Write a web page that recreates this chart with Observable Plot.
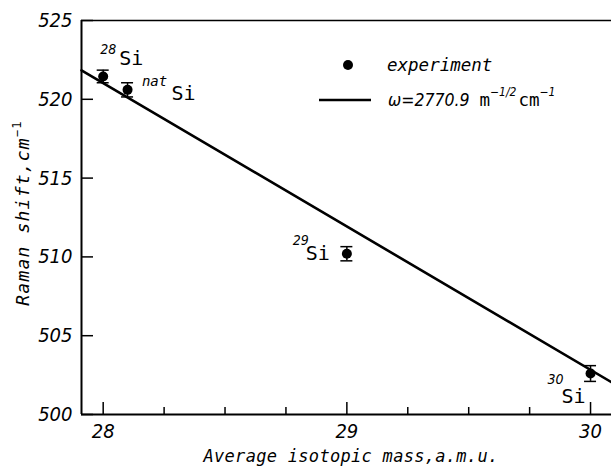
<!DOCTYPE html>
<html>
<head>
<meta charset="utf-8">
<script src="https://cdn.jsdelivr.net/npm/d3@7"></script>
<script src="https://cdn.jsdelivr.net/npm/@observablehq/plot@0.6"></script>
<style>
  html, body { margin: 0; padding: 0; background: #fff; }
  #chart svg { display: block; }
</style>
</head>
<body>
<div id="chart"></div>
<script>
// Data
const masses = [28.0, 28.1, 29.0, 30.0];
const shifts = [521.45, 520.6, 510.2, 502.6];
const errors = [0.4, 0.45, 0.45, 0.5];
const isoSup = ["28", "nat", "29", "30"];
const element = "Si";
const fitMass = [27.911, 30.086];
const fitShift = [521.84, 502.05];
const xMajor = [28, 29, 30];
const xMinor = [28.25, 28.5, 28.75, 29.25, 29.5, 29.75];
const yMajor = [500, 505, 510, 515, 520, 525];
const legendExp = "experiment";
const legendFit = "ω=2770.9";

const W = 611, H = 468;
const mL = 81, mR = 0, mT = 20, mB = 54;
const plotW = W - mL - mR, plotH = H - mT - mB;

const points = masses.map((m, i) => ({m, w: shifts[i], e: errors[i], sup: isoSup[i]}));
const fit = fitMass.map((m, i) => ({m, w: fitShift[i]}));

const tickFont = "'DejaVu Sans Condensed', 'DejaVu Sans', sans-serif";
const labFont = "'DejaVu Sans Mono', monospace";

const labelOffsets = [
  {sx: 5, sy: -27, ex: 28, ey: -18},
  {sx: 27, sy: -8, ex: 56, ey: 4},
  {sx: -46, sy: -13, ex: -29, ey: 0},
  {sx: -35, sy: 6, ex: -17, ey: 23}
];

const labelMarks = [];
points.forEach((p, i) => {
  const o = labelOffsets[i];
  labelMarks.push(Plot.text([p], {x: "m", y: "w", text: "sup", dx: o.sx, dy: o.sy,
    fontSize: 14, fontStyle: "italic", fontFamily: i === 1 ? labFont : tickFont}));
  labelMarks.push(Plot.text([p], {x: "m", y: "w", text: () => element, dx: o.ex, dy: o.ey,
    fontSize: 20, fontStyle: "normal", fontFamily: labFont}));
});

const chart = Plot.plot({
  width: W, height: H,
  marginLeft: mL, marginRight: mR, marginTop: mT, marginBottom: mB,
  style: {fontFamily: tickFont, background: "#fff", color: "#000"},
  x: {domain: [fitMass[0], fitMass[1]], axis: null},
  y: {domain: [500, 525], axis: null},
  marks: [
    // frame
    Plot.ruleX([fitMass[0]], {x: d => d, strokeWidth: 2}),
    Plot.ruleY([yMajor[0]], {y: d => d, strokeWidth: 2}),
    Plot.ruleY([yMajor[yMajor.length - 1]], {y: d => d, strokeWidth: 1.5}),
    // inward ticks
    Plot.tickX(xMajor, {x: d => d, insetTop: plotH - 12, strokeWidth: 1.5}),
    Plot.tickX(xMinor, {x: d => d, insetTop: plotH - 7, strokeWidth: 1.5}),
    Plot.tickY(yMajor, {y: d => d, insetRight: plotW - 12, strokeWidth: 1.5}),
    // tick labels (italic)
    Plot.text(xMajor, {x: d => d, y: () => yMajor[0], text: d => String(d), dy: 17,
      fontSize: 20, fontStyle: "italic", fontFamily: tickFont}),
    Plot.text(yMajor, {x: () => fitMass[0], y: d => d, text: d => String(d), dx: -9,
      textAnchor: "end", fontSize: 20, fontStyle: "italic", fontFamily: tickFont}),
    // fit line
    Plot.line(fit, {x: "m", y: "w", stroke: "#000", strokeWidth: 2.6}),
    // error bars
    Plot.ruleX(points, {x: "m", y1: d => d.w - d.e, y2: d => d.w + d.e, strokeWidth: 1.5}),
    Plot.ruleY(points, {y: d => d.w - d.e, x1: "m", x2: "m", insetLeft: -6, insetRight: -6, strokeWidth: 1.5}),
    Plot.ruleY(points, {y: d => d.w + d.e, x1: "m", x2: "m", insetLeft: -6, insetRight: -6, strokeWidth: 1.5}),
    Plot.dot(points, {x: "m", y: "w", r: 5, fill: "#000", stroke: "none"}),
    ...labelMarks
  ]
});

document.getElementById("chart").appendChild(chart);

const svg = d3.select(chart);

// Titles and legend drawn as real text on the same SVG
svg.append("text")
  .attr("x", 351).attr("y", 462)
  .attr("text-anchor", "middle")
  .attr("font-family", labFont).attr("font-style", "italic")
  .attr("font-size", 17).attr("letter-spacing", 0.3)
  .text("Average isotopic mass,a.m.u.");

const yt = svg.append("text")
  .attr("transform", "translate(29,213) rotate(-90)")
  .attr("text-anchor", "middle")
  .attr("font-family", labFont).attr("font-style", "italic")
  .attr("font-size", 18).attr("letter-spacing", 1.2);
yt.append("tspan").text("Raman shift,cm");
yt.append("tspan").attr("dy", -8).attr("font-size", 12).attr("font-style", "normal").text("−1");

// legend
svg.append("circle").attr("cx", 348).attr("cy", 65).attr("r", 5).attr("fill", "#000");
svg.append("text").attr("x", 387).attr("y", 71).attr("text-anchor", "start")
  .attr("font-family", labFont).attr("font-style", "italic").attr("font-size", 17.5)
  .text(legendExp);
svg.append("line").attr("x1", 319).attr("x2", 371).attr("y1", 100).attr("y2", 100)
  .attr("stroke", "#000").attr("stroke-width", 2.6);
const lf = svg.append("text").attr("x", 388).attr("y", 106).attr("text-anchor", "start")
  .attr("font-family", labFont).attr("font-style", "normal").attr("font-size", 17.5);
lf.append("tspan").attr("font-family", tickFont).attr("font-style", "italic").text(legendFit);
lf.append("tspan").attr("dx", 10).text("m");
lf.append("tspan").attr("dy", -10).attr("font-size", 12).attr("font-family", tickFont).attr("font-style", "italic").text("−1/2");
lf.append("tspan").attr("dy", 10).attr("dx", 2).text("cm");
lf.append("tspan").attr("dy", -10).attr("font-size", 12).attr("font-family", tickFont).attr("font-style", "italic").text("−1");
</script>
</body>
</html>
